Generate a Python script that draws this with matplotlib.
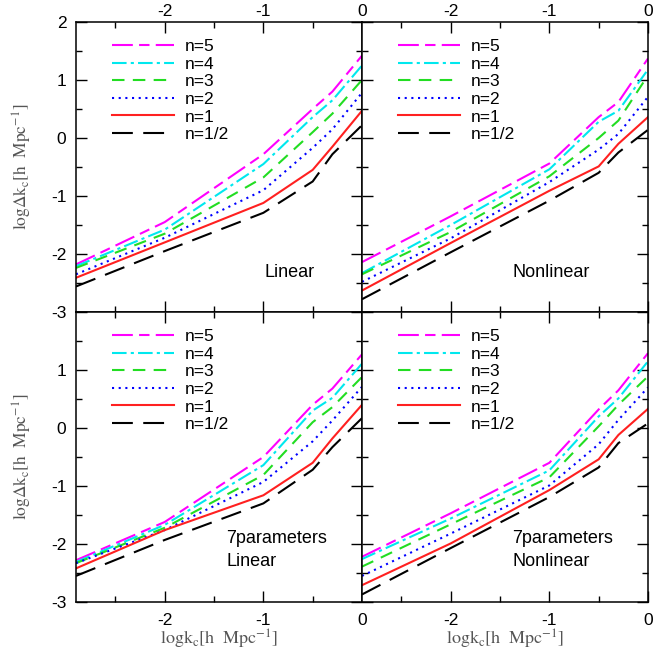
import matplotlib
matplotlib.use('Agg')
import matplotlib.pyplot as plt
import numpy as np

plt.rcParams['font.family'] = ['Liberation Sans', 'DejaVu Sans']
plt.rcParams['mathtext.fontset'] = 'stix'

# log k_c grid (same for all panels)
logk = [-2.9, -2.0, -1.0, -0.5, -0.3, 0.0]
labels = ['n=5', 'n=4', 'n=3', 'n=2', 'n=1', 'n=1/2']

# rows: n=5, n=4, n=3, n=2, n=1, n=1/2
linear = [[-2.18, -1.45, -0.28, 0.50, 0.80, 1.42],
          [-2.21, -1.58, -0.45, 0.36, 0.65, 1.25],
          [-2.24, -1.65, -0.68, 0.10, 0.42, 1.00],
          [-2.35, -1.72, -0.90, -0.17, 0.15, 0.78],
          [-2.41, -1.80, -1.12, -0.55, -0.15, 0.47],
          [-2.56, -1.95, -1.29, -0.75, -0.28, 0.22]]

nonlinear = [[-2.14, -1.35, -0.44, 0.36, 0.62, 1.37],
             [-2.33, -1.50, -0.54, 0.28, 0.47, 1.18],
             [-2.35, -1.62, -0.66, 0.00, 0.30, 1.08],
             [-2.48, -1.73, -0.76, -0.20, 0.07, 0.71],
             [-2.63, -1.81, -0.91, -0.49, -0.10, 0.36],
             [-2.78, -1.97, -1.08, -0.60, -0.25, 0.14]]

linear7 = [[-2.28, -1.62, -0.50, 0.40, 0.68, 1.27],
           [-2.31, -1.67, -0.64, 0.30, 0.52, 1.11],
           [-2.33, -1.72, -0.81, 0.10, 0.36, 0.88],
           [-2.33, -1.76, -0.93, -0.23, 0.13, 0.71],
           [-2.42, -1.76, -1.16, -0.60, -0.18, 0.40],
           [-2.55, -1.93, -1.30, -0.72, -0.33, 0.17]]

nonlinear7 = [[-2.22, -1.47, -0.60, 0.32, 0.65, 1.29],
              [-2.26, -1.56, -0.73, 0.20, 0.51, 1.15],
              [-2.39, -1.66, -0.85, 0.03, 0.40, 0.89],
              [-2.55, -1.82, -0.99, -0.28, 0.14, 0.70],
              [-2.71, -1.99, -1.07, -0.54, -0.12, 0.33],
              [-2.87, -2.07, -1.19, -0.68, -0.26, 0.08]]

colors = ['#ff00ff', '#00e8ee', '#22dd22', '#0000ff', '#ff2020', 'black']
dashes = [(10, 3, 5, 3), (7, 2, 1.5, 2), (6, 4), (1, 2.2), (), (10, 5)]

fig, axs = plt.subplots(2, 2, figsize=(6.54, 6.54), dpi=100)
fig.subplots_adjust(left=0.1162, right=0.9908, top=0.9664, bottom=0.0795,
                    wspace=0, hspace=0)

panels = [(linear, ['Linear']), (nonlinear, ['Nonlinear']),
          (linear7, ['7parameters', 'Linear']), (nonlinear7, ['7parameters', 'Nonlinear'])]
textx = [0.66, 0.525, 0.525, 0.525]

for i, ax in enumerate(axs.flat):
    data, txt = panels[i]
    row, col = divmod(i, 2)
    for j in range(6):
        ln, = ax.plot(logk, data[j], color=colors[j], lw=1.5, label=labels[j])
        if dashes[j]:
            ln.set_dashes(dashes[j])
    ax.set_xlim(-2.9, 0)
    ax.set_ylim(-3, 2)
    ax.set_xticks([-2, -1, 0])
    ax.set_xticks([-2.5, -1.5, -0.5], minor=True)
    ax.set_yticks([-3, -2, -1, 0, 1, 2])
    ax.set_yticks(np.arange(-2.5, 2, 1.0), minor=True)
    ax.set_xticklabels(['-2', '-1', '0'])
    if row == 0:
        ax.set_yticklabels(['-3', '-2', '-1', '0', '1', '2'])
    else:
        ax.set_yticklabels(['-3', '-2', '-1', '0', '1', ''])
    ax.tick_params(which='both', direction='in', top=True, right=True,
                   labelsize=12.5, width=1)
    ax.tick_params(which='major', length=8)
    ax.tick_params(axis='y', which='major', pad=7)
    ax.tick_params(axis='x', which='major', pad=2 if row == 0 else 8)
    ax.tick_params(which='minor', length=4.5)
    for s in ax.spines.values():
        s.set_linewidth(1.1)
    ax.tick_params(labeltop=(row == 0), labelbottom=(row == 1),
                   labelleft=(col == 0), labelright=False)
    if col == 0:
        ax.set_ylabel(r'$\mathrm{log\Delta k_c[h\ \ Mpc^{-1}]}$', fontsize=12.5,
                      color='#555555', labelpad=12)
    if row == 1:
        ax.set_xlabel(r'$\mathrm{logk_c[h\ \ Mpc^{-1}]}$', fontsize=13,
                      color='#555555', labelpad=0)
    ax.legend(loc='upper left', bbox_to_anchor=(0.1, 0.965), frameon=False,
              fontsize=12.5, handlelength=3.6, labelspacing=0.14,
              handletextpad=0.6, borderaxespad=0)
    if len(txt) == 1:
        ax.text(textx[i], 0.135, txt[0], transform=ax.transAxes, fontsize=13,
                va='center')
    else:
        ax.text(textx[i], 0.218, txt[0], transform=ax.transAxes, fontsize=13,
                va='center')
        ax.text(textx[i], 0.138, txt[1], transform=ax.transAxes, fontsize=13,
                va='center')

fig.savefig('out.png', dpi=100)
